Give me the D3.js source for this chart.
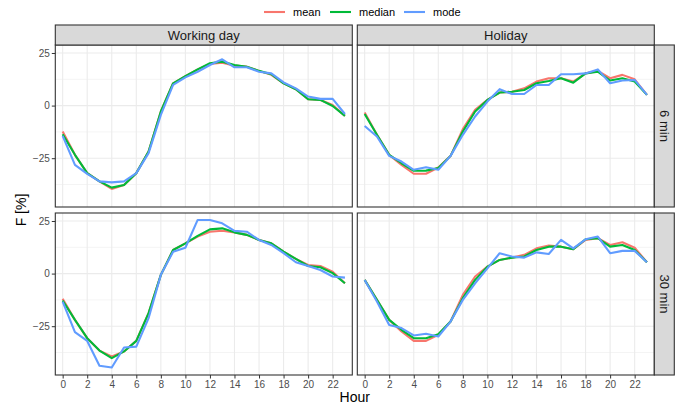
<!DOCTYPE html>
<html>
<head>
<meta charset="utf-8">
<script src="https://cdn.jsdelivr.net/npm/d3@7"></script>
<style>
  body { margin: 0; background: #fff; }
  text { font-family: "Liberation Sans", Arial, sans-serif; }
</style>
</head>
<body>
<div id="wrapper"></div>
<script>
// data
const hours = [0,1,2,3,4,5,6,7,8,9,10,11,12,13,14,15,16,17,18,19,20,21,22,23];
const xTicks = [0,2,4,6,8,10,12,14,16,18,20,22];
const yTicks = [-25, 0, 25];
const yMinor = [-37.5, -12.5, 12.5];
const seriesNames = ["mean", "median", "mode"];
const seriesColors = ["#F8766D", "#00BA38", "#619CFF"];
const colNames = ["Working day", "Holiday"];
const rowNames = ["6 min", "30 min"];

const wd6Mean   = [-12.3,-23.4,-32.1,-36,-39.6,-37.7,-32.1,-21.8,-2.8,10.6,14,17.2,19.8,20.4,19,18.5,16.5,14.6,10.6,7.8,3,2.7,0.3,-4.9];
const wd6Median = [-13.6,-23.4,-32.1,-36,-39,-37.7,-32.1,-21.8,-2.8,10.6,14,17.2,20.1,20.9,19.3,18.5,16.5,14.9,10.6,7.8,3,2.7,-0.2,-4.9];
const wd6Mode   = [-14.4,-28.2,-32.5,-36,-36.5,-36,-32.1,-22.6,-4.4,9.8,13.4,16.1,19.3,22,18.2,18.2,16.1,15.3,11,8.2,4.3,3.2,3.2,-4];

const hol6Mean   = [-3.3,-13.9,-23.4,-28.2,-32.4,-32.4,-29.4,-23.9,-11.2,-2,2.7,6.2,6.6,8.2,11.4,13,13,11.4,15.3,16.5,13,14.6,12.5,5.1];
const hol6Median = [-4,-13.9,-23.4,-27.4,-31,-30.9,-29.7,-23.9,-12.3,-2.8,2.7,6.2,6.6,7.4,10.6,11.7,13,10.9,15.3,16.1,11.9,13,11.4,5.1];
const hol6Mode   = [-9.7,-14.7,-23.9,-26.6,-30.5,-29.3,-30.5,-23.9,-13.9,-5.2,1.9,7.8,5.5,5.5,9.8,9.8,14.9,14.9,15.3,17.2,10.6,11.9,12.2,5.1];

const wd30Mean   = [-12,-22,-30.7,-36.6,-39.4,-37,-32,-18.8,-0.6,11.2,14.4,17.6,19.9,20.4,19.6,18.4,16,14.4,10.4,7,4.1,3.6,0.9,-4.6];
const wd30Median = [-12.8,-22,-30.7,-36.6,-40.2,-37,-32,-18.8,-0.6,11.2,14.4,17.9,21,21.5,19.6,18.4,16,14.4,10.4,7,3.6,3,0.2,-4.6];
const wd30Mode   = [-13.3,-27.8,-32,-43.8,-44.6,-35.1,-34.7,-21.2,-0.6,10.4,12.3,25.5,25.5,23.9,20.3,19.9,16,13.6,9.7,5.4,3.6,1.7,-1.4,-1.9];

const hol30Mean   = [-3,-12.5,-22,-27.5,-32,-32,-29.1,-22.8,-10.1,-1.4,3.3,6.5,7.6,8.9,12,13.3,12.8,11.6,16,16.8,13.6,14.9,12.3,5.4];
const hol30Median = [-3,-12.5,-22,-26.7,-30.7,-30.7,-28.8,-22.8,-11.7,-3,3.3,6.5,7.6,8.1,11.2,12.8,12.8,11.6,16.3,16.8,12.8,13.6,11.2,5.4];
const hol30Mode   = [-3,-13.3,-24.4,-25.9,-29.4,-28.6,-29.9,-22.8,-12.5,-4.6,2.5,9.7,8.1,7.6,10.1,9.3,16,12,16.3,17.6,9.7,10.8,10.8,5.4];

const panelData = [
  [[wd6Mean, wd6Median, wd6Mode], [hol6Mean, hol6Median, hol6Mode]],
  [[wd30Mean, wd30Median, wd30Mode], [hol30Mean, hol30Median, hol30Mode]],
];

const dims = {
  width: 699, height: 409,
  left: 55.3, top: 45,
  panelW: 297, panelH: 162,
  gapX: 5, gapY: 6,
  stripH: 20, stripW: 20,
};

const svg = d3.select("#wrapper").append("svg")
  .attr("width", dims.width)
  .attr("height", dims.height);

const xScale = d3.scaleLinear().domain([-0.6, 23.6]).range([0, dims.panelW]);
const yScale = d3.scaleLinear().domain([-48.2, 28.8]).range([dims.panelH, 0]);

const line = d3.line()
  .x((d, i) => xScale(hours[i]))
  .y(d => yScale(d));

rowNames.forEach((rowName, r) => {
  colNames.forEach((colName, c) => {
    const px = dims.left + c * (dims.panelW + dims.gapX);
    const py = dims.top + r * (dims.panelH + dims.gapY);
    const g = svg.append("g").attr("transform", `translate(${px},${py})`);

    g.append("rect").attr("width", dims.panelW).attr("height", dims.panelH).attr("fill", "#fff");

    // grid
    g.selectAll(".ymin").data(yMinor).join("line")
      .attr("x1", 0).attr("x2", dims.panelW)
      .attr("y1", d => yScale(d)).attr("y2", d => yScale(d))
      .attr("stroke", "#ebebeb").attr("stroke-width", 0.55);
    g.selectAll(".ymaj").data(yTicks).join("line")
      .attr("x1", 0).attr("x2", dims.panelW)
      .attr("y1", d => yScale(d)).attr("y2", d => yScale(d))
      .attr("stroke", "#ebebeb").attr("stroke-width", 1.1);
    g.selectAll(".xmaj").data(xTicks).join("line")
      .attr("y1", 0).attr("y2", dims.panelH)
      .attr("x1", d => xScale(d)).attr("x2", d => xScale(d))
      .attr("stroke", "#ebebeb").attr("stroke-width", 1.1);

    // series
    panelData[r][c].forEach((vals, s) => {
      g.append("path")
        .attr("d", line(vals))
        .attr("fill", "none")
        .attr("stroke", seriesColors[s])
        .attr("stroke-width", 2.1)
        .attr("stroke-linejoin", "round");
    });

    g.append("rect").attr("width", dims.panelW).attr("height", dims.panelH)
      .attr("fill", "none").attr("stroke", "#333").attr("stroke-width", 1.1);

    // y axis on left column
    if (c == 0) {
      const ya = g.append("g").call(d3.axisLeft(yScale).tickValues(yTicks).tickSize(3.5).tickPadding(2));
      ya.select(".domain").remove();
      ya.selectAll("line").attr("stroke", "#333");
      ya.selectAll("text").attr("fill", "#4d4d4d").style("font-size", "10px")
        .style("font-family", "Liberation Sans, Arial, sans-serif");
    }
    // x axis on bottom row
    if (r == rowNames.length - 1) {
      const xa = g.append("g").attr("transform", `translate(0,${dims.panelH})`)
        .call(d3.axisBottom(xScale).tickValues(xTicks).tickSize(3.5).tickPadding(2));
      xa.select(".domain").remove();
      xa.selectAll("line").attr("stroke", "#333");
      xa.selectAll("text").attr("fill", "#4d4d4d").style("font-size", "10px")
        .style("font-family", "Liberation Sans, Arial, sans-serif");
    }
    // top strips
    if (r == 0) {
      g.append("rect").attr("x", 0).attr("y", -dims.stripH)
        .attr("width", dims.panelW).attr("height", dims.stripH)
        .attr("fill", "#d9d9d9").attr("stroke", "#333").attr("stroke-width", 1.1);
      g.append("text").attr("x", dims.panelW / 2).attr("y", -dims.stripH / 2)
        .attr("text-anchor", "middle").attr("dy", "0.35em")
        .attr("fill", "#1a1a1a").style("font-size", "13px").text(colName);
    }
    // right strips
    if (c == colNames.length - 1) {
      g.append("rect").attr("x", dims.panelW).attr("y", 0)
        .attr("width", dims.stripW).attr("height", dims.panelH)
        .attr("fill", "#d9d9d9").attr("stroke", "#333").attr("stroke-width", 1.1);
      g.append("text")
        .attr("transform", `translate(${dims.panelW + dims.stripW / 2},${dims.panelH / 2}) rotate(90)`)
        .attr("text-anchor", "middle").attr("dy", "0.35em")
        .attr("fill", "#1a1a1a").style("font-size", "13px").text(rowName);
    }
  });
});

// axis titles
const plotRight = dims.left + 2 * dims.panelW + dims.gapX;
svg.append("text")
  .attr("x", (dims.left + plotRight) / 2).attr("y", 402)
  .attr("text-anchor", "middle").style("font-size", "14px").attr("fill", "#000")
  .text("Hour");
svg.append("text")
  .attr("transform", `translate(26,${dims.top + dims.panelH + dims.gapY / 2}) rotate(-90)`)
  .attr("text-anchor", "middle").style("font-size", "14px").attr("fill", "#000")
  .text("F [%]");

// legend
const legendX = [264, 330, 404];
const legend = svg.append("g");
seriesNames.forEach((name, i) => {
  legend.append("line")
    .attr("x1", legendX[i]).attr("x2", legendX[i] + 21)
    .attr("y1", 12).attr("y2", 12)
    .attr("stroke", seriesColors[i]).attr("stroke-width", 2.1);
  legend.append("text")
    .attr("x", legendX[i] + 29).attr("y", 12).attr("dy", "0.35em")
    .style("font-size", "11px").attr("fill", "#000")
    .text(name);
});
</script>
</body>
</html>
